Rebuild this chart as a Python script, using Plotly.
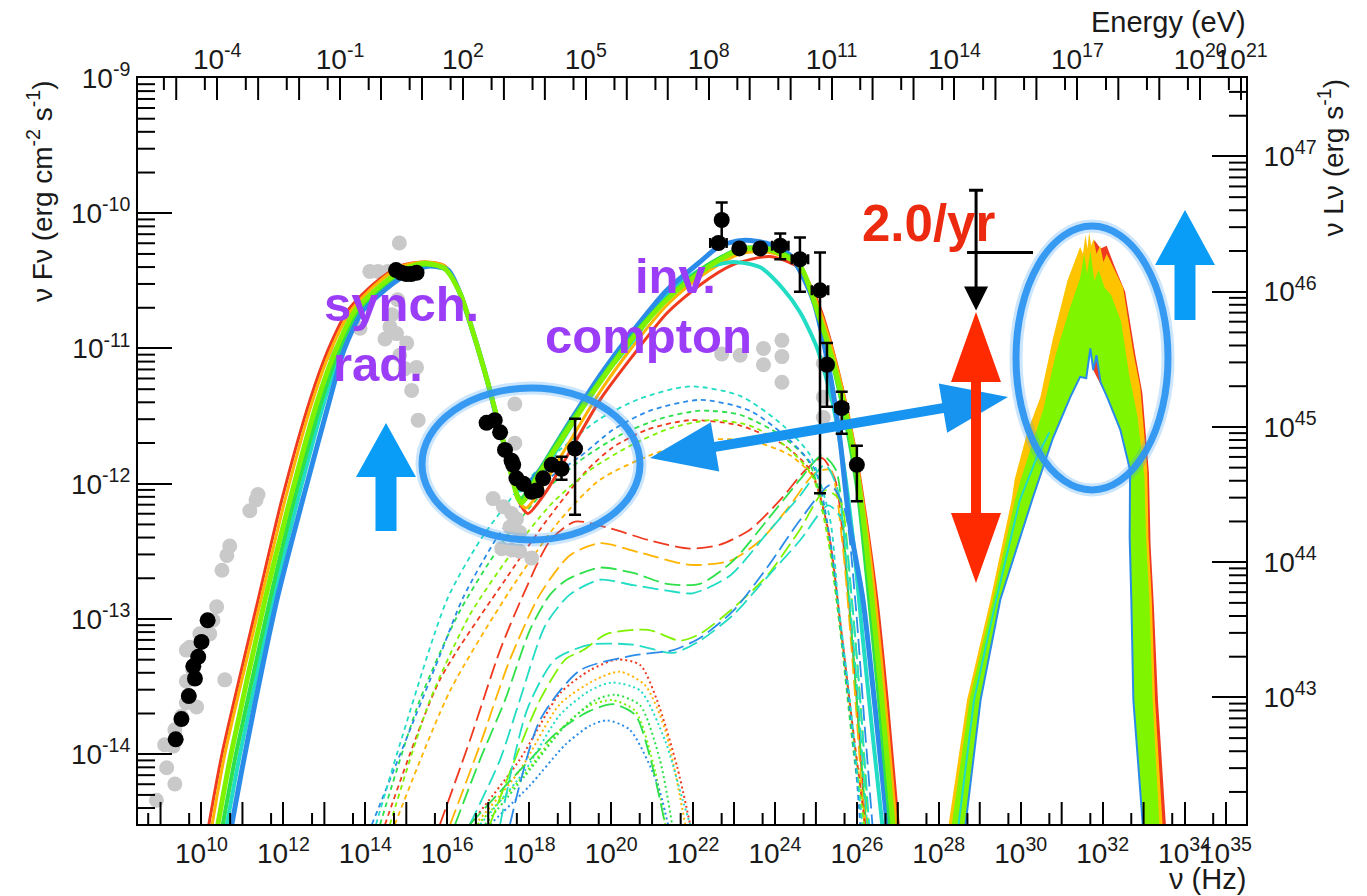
import math
import plotly.graph_objects as go

FONT = "Liberation Sans, Arial, sans-serif"

# ---------------- observed data: log10(nu/Hz), log10(nuFnu / erg cm-2 s-1) ----------------
GREY_LOGNU = [8.90, 9.15, 9.35, 9.10, 9.31, 9.35, 9.51, 9.63, 9.88, 9.63, 9.79, 9.63, 9.71, 9.96,
              10.20, 10.28, 10.37, 10.57, 10.50, 10.62, 10.69, 11.18, 11.33, 11.38,
              14.83, 14.11, 14.31, 14.55, 13.87, 13.21, 14.60, 14.76, 15.01, 14.48, 14.65, 14.79,
              14.84, 14.97, 15.25, 15.13, 15.29,
              17.12, 17.37, 17.57, 17.69, 17.53, 17.77, 17.33, 17.57, 17.77, 18.06, 17.65, 17.65,
              22.70, 23.15, 23.72, 23.72, 24.17, 24.17, 24.17, 25.18, 25.18, 25.18]
GREY_LOGF = [-14.34, -14.10, -14.22, -13.93, -13.94, -13.82, -13.72, -13.62, -13.65, -13.46, -13.38, -13.23, -13.21, -13.11,
             -13.11, -13.01, -12.91, -13.45, -12.64, -12.53, -12.46, -12.20, -12.12, -12.08,
             -10.22, -10.43, -10.43, -10.43, -10.85, -11.04, -10.84, -10.89, -10.96, -10.93, -10.75, -10.64,
             -11.05, -11.15, -11.14, -11.31, -11.53,
             -12.11, -12.17, -12.22, -12.26, -12.32, -12.36, -12.48, -12.49, -12.50, -12.55, -11.41, -11.70,
             -11.04, -11.05, -11.00, -11.12, -10.94, -11.06, -11.25, -11.11, -11.36, -11.51]

BR_LOGNU = [9.37, 9.51, 9.69, 9.80, 9.84, 9.92, 10.00, 10.15]
BR_LOGF = [-13.89, -13.74, -13.57, -13.35, -13.44, -13.28, -13.17, -13.01]

BO_LOGNU = [14.75, 14.88, 15.00, 15.12, 15.25]
BO_LOGF = [-10.42, -10.44, -10.45, -10.45, -10.44]

BX_LOGNU = [16.96, 17.16, 17.29, 17.41, 17.57, 17.61, 17.69, 17.86, 18.06, 18.18, 18.34, 18.55, 18.79, 19.12]
BX_LOGF = [-11.55, -11.53, -11.62, -11.75, -11.83, -11.86, -11.96, -12.00, -12.06, -12.05, -11.96, -11.86, -11.89, -11.74]
BX_HI = [-11.55, -11.53, -11.62, -11.75, -11.83, -11.86, -11.96, -12.00, -12.06, -12.05, -11.96, -11.86, -11.80, -11.52]
BX_LO = [-11.55, -11.53, -11.62, -11.75, -11.83, -11.86, -11.96, -12.00, -12.06, -12.05, -11.96, -11.86, -11.97, -12.23]

BG_LOGNU = [22.70, 22.62, 23.13, 23.64, 24.13, 24.61, 25.10, 25.27, 25.63, 26.00]
BG_LOGF = [-10.05, -10.22, -10.26, -10.26, -10.24, -10.34, -10.57, -11.12, -11.44, -11.86]
BG_HI = [-9.92, -10.22, -10.24, -10.24, -10.15, -10.18, -10.29, -10.96, -11.32, -11.72]
BG_LO = [-10.22, -10.22, -10.28, -10.29, -10.34, -10.58, -12.07, -11.43, -11.63, -12.13]
BG_XERR = [0.0, 0.2, 0.0, 0.0, 0.2, 0.2, 0.2, 0.12, 0.15, 0.12]

# neutrino upper-limit point
NUL_LOGNU, NUL_LOGF = 28.91, -10.29
NUL_XLO, NUL_XHI = 28.69, 30.30
NUL_YHI, NUL_YTIP = -9.83, -10.72

# ---------------- model curves ----------------
SOLID_RED_X = [10.18, 10.50, 11.38, 11.96, 12.65, 13.09, 13.57, 14.21, 14.84, 15.46, 15.94, 16.31, 16.65, 16.97, 17.36, 17.73, 17.97, 18.39, 18.75, 19.73, 20.54, 21.36, 22.17, 22.98, 23.88, 24.61, 25.10, 25.54, 25.96, 26.23, 26.49, 26.74, 27.01]
SOLID_RED_Y = [-14.52, -14.00, -12.86, -12.12, -11.38, -11.01, -10.72, -10.52, -10.39, -10.36, -10.39, -10.59, -10.90, -11.23, -11.68, -12.12, -12.22, -12.07, -11.89, -11.38, -11.05, -10.74, -10.53, -10.38, -10.32, -10.41, -10.70, -11.16, -11.75, -12.27, -12.86, -13.60, -14.52]
SOLID_ORANGE_X = [10.26, 10.57, 11.45, 12.04, 12.72, 13.16, 13.65, 14.28, 14.89, 15.46, 15.94, 16.31, 16.65, 16.97, 17.36, 17.73, 17.92, 18.39, 18.75, 19.73, 20.54, 21.36, 22.17, 23.15, 23.88, 24.61, 25.05, 25.49, 25.91, 26.18, 26.45, 26.69, 26.96]
SOLID_ORANGE_Y = [-14.52, -14.00, -12.86, -12.12, -11.38, -11.01, -10.72, -10.52, -10.39, -10.36, -10.39, -10.59, -10.90, -11.23, -11.68, -12.12, -12.18, -11.99, -11.81, -11.32, -10.98, -10.68, -10.47, -10.30, -10.29, -10.39, -10.68, -11.11, -11.68, -12.20, -12.86, -13.60, -14.52]
SOLID_LIME_X = [10.40, 10.72, 11.55, 12.16, 12.84, 13.28, 13.75, 14.43, 14.97, 15.46, 15.94, 16.31, 16.65, 16.97, 17.36, 17.73, 17.82, 18.26, 18.75, 19.73, 20.54, 21.36, 22.17, 23.15, 23.88, 24.61, 25.03, 25.42, 25.83, 26.10, 26.37, 26.61, 26.88]
SOLID_LIME_Y = [-14.52, -14.00, -12.86, -12.12, -11.38, -11.01, -10.72, -10.52, -10.41, -10.37, -10.41, -10.59, -10.90, -11.23, -11.68, -12.11, -12.14, -11.92, -11.69, -11.25, -10.92, -10.64, -10.44, -10.27, -10.27, -10.39, -10.72, -11.10, -11.62, -12.12, -12.86, -13.60, -14.52]
SOLID_GREEN_X = [10.52, 10.84, 11.67, 12.26, 12.94, 13.36, 13.82, 14.50, 15.04, 15.51, 15.96, 16.31, 16.65, 16.97, 17.36, 17.71, 17.80, 18.26, 18.75, 19.73, 20.54, 21.36, 22.17, 23.15, 23.88, 24.56, 24.98, 25.37, 25.76, 26.03, 26.30, 26.54, 26.81]
SOLID_GREEN_Y = [-14.52, -14.00, -12.86, -12.12, -11.38, -11.01, -10.72, -10.52, -10.41, -10.38, -10.41, -10.59, -10.90, -11.23, -11.68, -12.08, -12.11, -11.90, -11.66, -11.23, -10.90, -10.63, -10.42, -10.26, -10.26, -10.36, -10.68, -11.07, -11.59, -12.08, -12.86, -13.60, -14.52]
SOLID_CYAN_X = [10.62, 10.94, 11.75, 12.35, 13.01, 13.41, 13.87, 14.58, 15.09, 15.53, 15.99, 16.31, 16.65, 16.97, 17.36, 17.66, 17.77, 18.26, 18.75, 19.73, 20.54, 21.36, 22.17, 22.98, 23.64, 24.20, 24.61, 25.02, 25.39, 25.66, 25.91, 26.15, 26.40, 26.62]
SOLID_CYAN_Y = [-14.52, -14.00, -12.86, -12.12, -11.38, -11.01, -10.72, -10.52, -10.42, -10.39, -10.42, -10.59, -10.90, -11.23, -11.68, -12.01, -12.05, -11.95, -11.71, -11.24, -10.94, -10.61, -10.42, -10.36, -10.40, -10.56, -10.73, -10.99, -11.38, -11.83, -12.42, -13.16, -13.90, -14.52]
SOLID_BLUE_X = [10.74, 11.06, 11.84, 12.47, 13.13, 13.48, 13.94, 14.67, 15.14, 15.58, 16.02, 16.31, 16.65, 16.97, 17.36, 17.66, 17.97, 18.26, 18.75, 19.73, 20.54, 21.36, 22.17, 22.66, 23.27, 23.88, 24.37, 24.93, 25.35, 25.59, 25.81, 26.15, 26.45, 26.74]
SOLID_BLUE_Y = [-14.52, -14.00, -12.86, -12.12, -11.38, -11.01, -10.72, -10.52, -10.43, -10.39, -10.42, -10.59, -10.90, -11.23, -11.68, -11.90, -11.99, -11.90, -11.66, -11.20, -10.87, -10.57, -10.36, -10.24, -10.20, -10.23, -10.31, -10.64, -11.20, -11.68, -12.27, -12.86, -13.67, -14.52]

SD_CYAN_X = [14.26, 14.84, 15.99, 16.80, 17.77, 18.75, 19.73, 20.71, 21.93, 23.15, 24.20, 24.86, 25.35, 25.54, 25.83, 26.13]
SD_CYAN_Y = [-14.52, -13.93, -12.86, -12.42, -12.03, -11.75, -11.52, -11.37, -11.28, -11.35, -11.57, -11.79, -12.27, -12.86, -13.60, -14.52]
SD_BLUE_X = [14.16, 15.82, 16.39, 17.21, 17.77, 18.44, 19.24, 20.05, 20.95, 22.17, 23.39, 24.37, 24.98, 25.35, 25.64, 25.96, 26.08]
SD_BLUE_Y = [-14.52, -13.27, -12.84, -12.40, -12.17, -11.97, -11.80, -11.60, -11.46, -11.38, -11.46, -11.68, -11.90, -12.42, -13.16, -14.04, -14.52]
SD_GREEN_X = [14.36, 15.33, 16.31, 17.29, 18.26, 19.24, 20.22, 21.19, 22.17, 23.15, 24.13, 24.81, 25.25, 25.54, 25.83, 26.13]
SD_GREEN_Y = [-14.52, -13.60, -12.94, -12.46, -12.09, -11.83, -11.64, -11.52, -11.46, -11.49, -11.64, -11.83, -12.27, -12.94, -13.75, -14.52]
SD_LIME_X = [14.60, 15.58, 16.55, 17.53, 18.51, 19.48, 20.46, 21.44, 22.42, 23.39, 24.25, 24.91, 25.30, 25.59, 25.88, 26.18]
SD_LIME_Y = [-14.52, -13.60, -12.97, -12.53, -12.16, -11.90, -11.72, -11.59, -11.53, -11.57, -11.72, -11.94, -12.42, -13.08, -13.82, -14.52]
SD_RED_X = [14.48, 15.82, 17.46, 18.43, 19.41, 20.05, 20.88, 21.93, 23.15, 24.20, 24.86, 25.30, 25.59, 25.88, 26.20]
SD_RED_Y = [-14.52, -13.45, -12.69, -12.27, -11.90, -11.73, -11.60, -11.53, -11.57, -11.71, -11.90, -12.34, -13.01, -13.75, -14.52]
SD_ORANGE_X = [14.72, 16.07, 17.53, 18.75, 19.73, 20.95, 22.17, 23.39, 24.37, 24.98, 25.35, 25.64, 25.96, 26.23]
SD_ORANGE_Y = [-14.52, -13.53, -12.79, -12.27, -11.97, -11.79, -11.68, -11.68, -11.79, -11.97, -12.46, -13.16, -13.97, -14.52]

LD_RED_X = [15.82, 16.55, 17.29, 17.90, 18.51, 19.12, 19.97, 20.95, 21.93, 22.66, 23.39, 24.13, 24.74, 25.15, 25.47, 25.71, 25.96, 26.20]
LD_RED_Y = [-14.52, -13.90, -13.23, -12.79, -12.42, -12.28, -12.33, -12.42, -12.48, -12.45, -12.34, -12.12, -11.90, -11.81, -11.97, -12.57, -13.45, -14.52]
LD_ORANGE_X = [16.07, 16.80, 17.53, 18.26, 18.99, 19.73, 20.71, 21.93, 22.90, 23.64, 24.37, 24.98, 25.35, 25.64, 25.91, 26.18]
LD_ORANGE_Y = [-14.52, -13.93, -13.30, -12.82, -12.53, -12.44, -12.51, -12.60, -12.57, -12.42, -12.16, -11.92, -11.90, -12.42, -13.38, -14.52]
LD_GREEN1_X = [16.19, 16.80, 17.41, 18.02, 18.51, 18.92, 19.73, 20.54, 21.36, 22.17, 22.98, 23.81, 24.61, 25.15, 25.49, 25.73, 25.98, 26.23]
LD_GREEN1_Y = [-14.52, -14.04, -13.60, -13.08, -12.82, -12.71, -12.62, -12.66, -12.74, -12.74, -12.57, -12.27, -11.97, -11.79, -11.90, -12.57, -13.53, -14.52]
LD_CYAN1_X = [16.55, 17.29, 17.77, 18.39, 18.99, 19.73, 20.54, 21.36, 21.99, 22.90, 23.88, 24.61, 25.22, 25.54, 25.78, 26.03, 26.25]
LD_CYAN1_Y = [-14.52, -14.04, -13.60, -13.05, -12.82, -12.71, -12.75, -12.79, -12.81, -12.68, -12.34, -12.09, -11.86, -12.05, -12.71, -13.60, -14.52]
LD_GREEN2_X = [17.04, 17.65, 18.26, 18.88, 19.32, 19.90, 20.90, 21.68, 22.17, 22.98, 23.81, 24.61, 25.22, 25.59, 25.83, 26.08, 26.28]
LD_GREEN2_Y = [-14.52, -14.04, -13.60, -13.30, -13.23, -13.11, -13.08, -13.16, -13.11, -12.92, -12.68, -12.34, -12.05, -12.12, -12.71, -13.60, -14.52]
LD_CYAN2_X = [17.29, 17.95, 18.63, 19.48, 20.54, 21.52, 22.17, 22.98, 23.81, 24.61, 25.30, 25.64, 25.88, 26.10, 26.30]
LD_CYAN2_Y = [-14.52, -13.67, -13.30, -13.19, -13.19, -13.25, -13.16, -12.97, -12.69, -12.42, -12.16, -12.27, -12.86, -13.67, -14.52]
LD_BLUE_X = [17.53, 18.26, 19.24, 20.54, 21.52, 22.17, 22.98, 23.81, 24.61, 25.35, 25.71, 25.96, 26.18, 26.38]
LD_BLUE_Y = [-14.52, -13.75, -13.38, -13.27, -13.23, -13.14, -12.94, -12.62, -12.27, -12.01, -12.20, -12.86, -13.75, -14.52]
LD_GREEN3_X = [16.55, 17.77, 18.75, 19.48, 20.05, 20.59, 20.95, 21.32]
LD_GREEN3_Y = [-14.52, -14.12, -13.82, -13.68, -13.63, -13.71, -14.02, -14.52]

DT_RED_X = [16.55, 17.77, 18.75, 19.48, 20.14, 20.71, 21.12, 21.61, 21.93]
DT_RED_Y = [-14.52, -14.04, -13.55, -13.38, -13.30, -13.34, -13.60, -14.09, -14.52]
DT_CYAN_X = [16.80, 17.90, 18.75, 19.48, 20.02, 20.71, 21.32, 21.75, 21.93]
DT_CYAN_Y = [-14.52, -14.12, -13.71, -13.53, -13.47, -13.53, -13.90, -14.34, -14.52]
DT_BLUE_X = [17.04, 18.02, 18.88, 19.48, 19.90, 20.46, 21.12, 21.39]
DT_BLUE_Y = [-14.52, -14.23, -13.93, -13.79, -13.75, -13.82, -14.21, -14.52]
DT_ORANGE_X = [16.68, 17.77, 18.75, 19.61, 20.22, 20.83, 21.32, 21.81]
DT_ORANGE_Y = [-14.52, -14.12, -13.63, -13.45, -13.39, -13.49, -13.82, -14.52]
DT_GREEN_X = [16.92, 17.90, 18.88, 19.61, 20.10, 20.71, 21.19, 21.49]
DT_GREEN_Y = [-14.52, -14.16, -13.79, -13.60, -13.56, -13.64, -14.04, -14.52]
DT_LIME_X = [16.74, 17.77, 18.75, 19.48, 20.02, 20.59, 21.07, 21.32]
DT_LIME_Y = [-14.52, -14.19, -13.82, -13.64, -13.60, -13.68, -14.12, -14.52]

# neutrino spectra (filled bands)
NU_OUTER_X = [28.20, 28.69, 29.26, 29.78, 29.85, 30.16, 30.48, 30.79, 31.14, 31.45, 31.52, 31.58, 31.63, 31.67, 31.72, 31.78, 31.85, 31.94, 32.02, 32.10, 32.26, 32.50, 32.75, 32.92, 33.09, 33.12, 33.20, 33.28, 33.48]
NU_OUTER_Y = [-14.60, -13.60, -12.86, -12.12, -11.97, -11.62, -11.36, -10.92, -10.50, -10.25, -10.30, -10.16, -10.26, -10.14, -10.24, -10.19, -10.30, -10.24, -10.36, -10.30, -10.40, -10.55, -11.03, -11.29, -11.90, -12.40, -12.86, -13.60, -14.60]
NU_LIME_X = [28.28, 28.75, 29.32, 29.86, 30.00, 30.55, 30.85, 31.20, 31.45, 31.55, 31.62, 31.70, 31.80, 31.90, 32.05, 32.20, 32.45, 32.65, 32.85, 33.02, 33.06, 33.14, 33.22, 33.40]
NU_LIME_Y = [-14.60, -13.60, -12.86, -12.12, -11.97, -11.45, -11.05, -10.70, -10.48, -10.30, -10.45, -10.28, -10.50, -10.42, -10.55, -10.60, -10.80, -11.20, -11.50, -11.95, -12.40, -12.86, -13.60, -14.60]
NU_INNER_X = [33.00, 32.75, 32.70, 32.66, 32.67, 32.43, 32.11, 31.95, 31.85, 31.77, 31.70, 31.60, 31.45, 31.21, 30.79, 30.30, 29.50, 29.02, 28.62]
NU_INNER_Y = [-14.60, -13.60, -12.86, -12.40, -11.90, -11.60, -11.36, -11.25, -11.05, -11.16, -11.00, -11.22, -11.21, -11.36, -11.66, -12.10, -12.86, -13.60, -14.60]
NU_RED_X = [31.70, 31.80, 31.95, 32.10, 32.30, 32.55, 32.80, 32.97, 33.13, 33.17, 33.25, 33.35, 33.56, 33.00, 32.75, 32.70, 32.66, 32.67, 32.43, 32.11, 31.77]
NU_RED_Y = [-10.30, -10.20, -10.26, -10.24, -10.40, -10.58, -11.05, -11.33, -11.92, -12.45, -12.90, -13.60, -14.60, -14.60, -13.60, -12.86, -12.40, -11.90, -11.60, -11.36, -11.16]
NU_CYAN_X = [28.45, 28.86, 29.40, 29.98, 30.40, 30.70]
NU_CYAN_Y = [-14.60, -13.60, -12.86, -12.12, -11.80, -11.62]

# axis geometry
X_RANGE = [8.45, 35.50]
Y_RANGE = [-14.516, -9.0]
LOG_H_EV = -14.383          # log10(h) in eV s  (E = h nu)
LUM_OFFSET = 56.58          # log10(nuLnu) - log10(nuFnu)

RED, ORANGE, LIME, GREEN, CYAN, BLUE = "#ef3a1f", "#ffb400", "#7ff200", "#2ee04a", "#22dcc4", "#2b8be8"
PURPLE, TXTRED, ABLUE, AREDC = "#9b3cf7", "#ec2a10", "#0a9df7", "#ff2a00"

L, T, W, H = 138, 78, 1108, 746


def P(x, y):
    return (x - L) / W, (T + H - y) / H


def lin(a):
    return [10.0 ** v for v in a]


fig = go.Figure()


def line(xs, ys, color, width, dash=None, smooth=0.7):
    fig.add_trace(go.Scatter(x=lin(xs), y=lin(ys), mode="lines",
                             line=dict(color=color, width=width, dash=dash, shape="spline", smoothing=smooth),
                             hoverinfo="skip", showlegend=False))


def poly(xs, ys, color):
    fig.add_trace(go.Scatter(x=lin(xs), y=lin(ys), mode="lines", fill="toself", fillcolor=color,
                             line=dict(width=0, color=color), hoverinfo="skip", showlegend=False))


# dotted / dashed components
DOT = "2px,3px"
for xs, ys, c in [(DT_RED_X, DT_RED_Y, RED), (DT_ORANGE_X, DT_ORANGE_Y, ORANGE), (DT_CYAN_X, DT_CYAN_Y, CYAN),
                  (DT_LIME_X, DT_LIME_Y, LIME), (DT_GREEN_X, DT_GREEN_Y, GREEN), (DT_BLUE_X, DT_BLUE_Y, BLUE)]:
    line(xs, ys, c, 2, DOT)
LDASH = "16px,6px"
for xs, ys, c in [(LD_RED_X, LD_RED_Y, RED), (LD_ORANGE_X, LD_ORANGE_Y, ORANGE), (LD_GREEN1_X, LD_GREEN1_Y, GREEN),
                  (LD_CYAN1_X, LD_CYAN1_Y, CYAN), (LD_GREEN2_X, LD_GREEN2_Y, LIME), (LD_CYAN2_X, LD_CYAN2_Y, CYAN),
                  (LD_BLUE_X, LD_BLUE_Y, BLUE), (LD_GREEN3_X, LD_GREEN3_Y, GREEN)]:
    line(xs, ys, c, 1.8, LDASH)
SDASH = "5px,4px"
for xs, ys, c in [(SD_ORANGE_X, SD_ORANGE_Y, ORANGE), (SD_RED_X, SD_RED_Y, RED), (SD_LIME_X, SD_LIME_Y, LIME),
                  (SD_GREEN_X, SD_GREEN_Y, GREEN), (SD_BLUE_X, SD_BLUE_Y, BLUE), (SD_CYAN_X, SD_CYAN_Y, CYAN)]:
    line(xs, ys, c, 1.8, SDASH)

# archival (grey) data
fig.add_trace(go.Scatter(x=lin(GREY_LOGNU), y=lin(GREY_LOGF), mode="markers",
                         marker=dict(color="#c9c9c9", size=15), hoverinfo="skip", showlegend=False))

# model SEDs
line(SOLID_RED_X, SOLID_RED_Y, RED, 3)
line(SOLID_ORANGE_X, SOLID_ORANGE_Y, ORANGE, 3)
line(SOLID_CYAN_X, SOLID_CYAN_Y, CYAN, 4)
line(SOLID_BLUE_X, SOLID_BLUE_Y, BLUE, 5)
line(SOLID_GREEN_X, SOLID_GREEN_Y, GREEN, 4)
line(SOLID_LIME_X, SOLID_LIME_Y, LIME, 5)

# neutrino spectra
poly(NU_RED_X, NU_RED_Y, RED)
poly(NU_OUTER_X + NU_INNER_X, NU_OUTER_Y + NU_INNER_Y, "#ffc400")
poly(NU_LIME_X + NU_INNER_X, NU_LIME_Y + NU_INNER_Y, "#7ff500")
fig.add_trace(go.Scatter(x=lin(NU_CYAN_X), y=lin(NU_CYAN_Y), mode="lines", line=dict(color=CYAN, width=2),
                         hoverinfo="skip", showlegend=False))
fig.add_trace(go.Scatter(x=lin(NU_INNER_X), y=lin(NU_INNER_Y), mode="lines", line=dict(color=BLUE, width=2),
                         hoverinfo="skip", showlegend=False))


# black data
def errs(vals, hi, lo):
    return ([10 ** h - 10 ** v for v, h in zip(vals, hi)], [10 ** v - 10 ** l for v, l in zip(vals, lo)])


BLK = dict(color="black", size=16)
fig.add_trace(go.Scatter(x=lin(BR_LOGNU), y=lin(BR_LOGF), mode="markers", marker=BLK, hoverinfo="skip", showlegend=False))
fig.add_trace(go.Scatter(x=lin(BO_LOGNU), y=lin(BO_LOGF), mode="markers", marker=BLK, hoverinfo="skip", showlegend=False))
p, m = errs(BX_LOGF, BX_HI, BX_LO)
fig.add_trace(go.Scatter(x=lin(BX_LOGNU), y=lin(BX_LOGF), mode="markers", marker=BLK,
                         error_y=dict(type="data", symmetric=False, array=p, arrayminus=m, color="black", thickness=2.5, width=6),
                         hoverinfo="skip", showlegend=False))
p, m = errs(BG_LOGF, BG_HI, BG_LO)
xp = [10 ** (x + e) - 10 ** x for x, e in zip(BG_LOGNU, BG_XERR)]
xm = [10 ** x - 10 ** (x - e) for x, e in zip(BG_LOGNU, BG_XERR)]
fig.add_trace(go.Scatter(x=lin(BG_LOGNU), y=lin(BG_LOGF), mode="markers", marker=BLK,
                         error_y=dict(type="data", symmetric=False, array=p, arrayminus=m, color="black", thickness=2.5, width=6),
                         error_x=dict(type="data", symmetric=False, array=xp, arrayminus=xm, color="black", thickness=2.5, width=5),
                         hoverinfo="skip", showlegend=False))
fig.add_trace(go.Scatter(x=[10 ** NUL_LOGNU], y=[10 ** NUL_LOGF], mode="markers", marker=dict(color="black", size=1),
                         error_x=dict(type="data", symmetric=False, array=[10 ** NUL_XHI - 10 ** NUL_LOGNU],
                                      arrayminus=[10 ** NUL_LOGNU - 10 ** NUL_XLO], color="black", thickness=3, width=0),
                         error_y=dict(type="data", symmetric=False, array=[10 ** NUL_YHI - 10 ** NUL_LOGF], arrayminus=[0],
                                      color="black", thickness=3, width=7),
                         hoverinfo="skip", showlegend=False))
fig.add_annotation(x=NUL_LOGNU, y=NUL_YTIP, ax=NUL_LOGNU, ay=NUL_LOGF, xref="x", yref="y", axref="x", ayref="y",
                   showarrow=True, arrowhead=2, arrowsize=1.6, arrowwidth=3, arrowcolor="black", text="", standoff=0)

# invisible anchor so that the energy / luminosity axes are drawn
fig.add_trace(go.Scatter(x=[1.0], y=[1e45], xaxis="x2", yaxis="y2", mode="markers", marker=dict(opacity=0),
                         hoverinfo="skip", showlegend=False))

NU_LABELS = [10, 12, 14, 16, 18, 20, 22, 24, 26, 28, 30, 32, 34, 35]
E_LABELS = [-4, -1, 2, 5, 8, 11, 14, 17, 20, 21]


# ---------------- frame ticks without labels (drawn as short lines) ----------------
def xtick(v, top, length):
    if X_RANGE[0] < math.log10(v) < X_RANGE[1]:
        y0 = 1 if top else 0
        y1 = 1 - length / H if top else length / H
        fig.add_shape(type="line", xref="x", yref="paper", x0=v, x1=v, y0=y0, y1=y1,
                      line=dict(color="black", width=2))


def ytick(v, right, length):
    if Y_RANGE[0] < math.log10(v) < Y_RANGE[1]:
        x0 = 1 if right else 0
        x1 = 1 - length / W if right else length / W
        fig.add_shape(type="line", xref="paper", yref="y", x0=x0, x1=x1, y0=v, y1=v,
                      line=dict(color="black", width=2))


for k in range(8, 37):
    if k not in NU_LABELS:
        xtick(10.0 ** k, False, 22)
    xtick(5 * 10.0 ** k, False, 11)
for k in range(-7, 23):
    if k not in E_LABELS:
        xtick(10.0 ** (k - LOG_H_EV), True, 22)
    xtick(5 * 10.0 ** (k - LOG_H_EV), True, 12)
for k in range(-15, -8):
    for mm in range(2, 10):
        ytick(mm * 10.0 ** k, False, 17)
for k in range(42, 48):
    for mm in range(2, 10):
        ytick(mm * 10.0 ** (k - LUM_OFFSET), True, 17)


# ---------------- decorations ----------------
def ring(cx, cy, rx, ry):
    x0, y0 = P(cx - rx, cy + ry)
    x1, y1 = P(cx + rx, cy - ry)
    fig.add_shape(type="circle", xref="paper", yref="paper", x0=x0, y0=y0, x1=x1, y1=y1,
                  line=dict(color="rgba(70,160,245,0.28)", width=13))
    fig.add_shape(type="circle", xref="paper", yref="paper", x0=x0, y0=y0, x1=x1, y1=y1,
                  line=dict(color="rgba(45,150,242,0.95)", width=7))


def path_shape(pts, color):
    s = "M " + " L ".join("%.5f,%.5f" % P(x, y) for x, y in pts) + " Z"
    fig.add_shape(type="path", xref="paper", yref="paper", path=s, fillcolor=color, line=dict(width=0))


def up_arrow(x, tip, base, bottom, hw, sw, color):
    path_shape([(x - sw, bottom), (x - sw, base), (x - hw, base), (x, tip), (x + hw, base), (x + sw, base), (x + sw, bottom)], color)


def double_arrow(a, b, hl, hw, sw, color):
    ax, ay = a
    bx, by = b
    dx, dy = bx - ax, by - ay
    n = (dx * dx + dy * dy) ** 0.5
    ux, uy = dx / n, dy / n
    nx, ny = -uy, ux
    pts = [(ax, ay),
           (ax + ux * hl + nx * hw, ay + uy * hl + ny * hw),
           (ax + ux * hl + nx * sw, ay + uy * hl + ny * sw),
           (bx - ux * hl + nx * sw, by - uy * hl + ny * sw),
           (bx - ux * hl + nx * hw, by - uy * hl + ny * hw),
           (bx, by),
           (bx - ux * hl - nx * hw, by - uy * hl - ny * hw),
           (bx - ux * hl - nx * sw, by - uy * hl - ny * sw),
           (ax + ux * hl - nx * sw, ay + uy * hl - ny * sw),
           (ax + ux * hl - nx * hw, ay + uy * hl - ny * hw)]
    path_shape(pts, color)


ring(531, 464, 109, 76)
ring(1092, 358, 76, 132)
up_arrow(386, 423, 477, 531, 30, 10.5, ABLUE)
up_arrow(1185, 210, 265, 320, 30, 10.5, ABLUE)
double_arrow((650, 458), (1008, 397), 66, 25, 5, "#1794f0")
double_arrow((976, 312), (976, 583), 70, 25, 5, AREDC)


def label(text, x, y, size, color, xanchor="left"):
    px_, py_ = P(x, y)
    fig.add_annotation(x=px_, y=py_, xref="paper", yref="paper", text=text, showarrow=False,
                       xanchor=xanchor, yanchor="middle", font=dict(family=FONT, size=size, color=color))


label("<b>synch.</b>", 322, 304, 49, PURPLE)
label("<b>rad.</b>", 331, 364, 49, PURPLE)
label("<b>inv.</b>", 633, 276, 49, PURPLE)
label("<b>compton</b>", 543, 336, 49, PURPLE)
label("<b>2.0/yr</b>", 860, 223, 51, TXTRED)

# axis titles
label("Energy (eV)", 1248, 22, 29, "#1a1a1a", xanchor="right")
label("\u03bd (Hz)", 1248, 879, 29, "#1a1a1a", xanchor="right")
for text, x in [("\u03bd F\u03bd (erg cm<sup>-2</sup> s<sup>-1</sup>)", 40), ("\u03bd L\u03bd (erg s<sup>-1</sup>)", 1331)]:
    px_, py_ = P(x, 78)
    fig.add_annotation(x=px_, y=py_, xref="paper", yref="paper", text=text, showarrow=False, textangle=-90,
                       xanchor="center", yanchor="top", font=dict(family=FONT, size=28, color="#1a1a1a"))

# ---------------- axes ----------------
TF = dict(family=FONT, size=28, color="#1a1a1a")


def sup(k):
    return "10<sup>%d</sup>" % k


common = dict(type="log", showgrid=False, zeroline=False, showline=True, linecolor="black", linewidth=2,
              ticks="inside", tickcolor="black", tickwidth=2, tickmode="array", tickfont=TF, tickangle=0)

yk = list(range(-14, -8))
lk = list(range(43, 48))
E_RANGE = [X_RANGE[0] + LOG_H_EV, X_RANGE[1] + LOG_H_EV]

fig.update_layout(
    width=1367, height=896, margin=dict(l=L, r=1367 - L - W, t=T, b=896 - T - H),
    paper_bgcolor="white", plot_bgcolor="white", showlegend=False,
    xaxis=dict(common, range=X_RANGE, side="bottom", ticklen=22, ticklabelstandoff=3,
               tickvals=[10.0 ** k for k in NU_LABELS], ticktext=[sup(k) for k in NU_LABELS]),
    xaxis2=dict(common, range=E_RANGE, side="top", overlaying="x", anchor="y", ticklen=22, ticklabelstandoff=-4,
                tickvals=[10.0 ** k for k in E_LABELS], ticktext=[sup(k) for k in E_LABELS]),
    yaxis=dict(common, range=Y_RANGE, side="left", ticklen=34,
               tickvals=[10.0 ** k for k in yk], ticktext=[sup(k) for k in yk]),
    yaxis2=dict(common, range=[Y_RANGE[0] + LUM_OFFSET, Y_RANGE[1] + LUM_OFFSET], side="right", overlaying="y",
                anchor="x", ticklen=34, ticklabelstandoff=10, tickvals=[10.0 ** k for k in lk],
                ticktext=[sup(k) for k in lk]),
)

fig.write_html("out.html")
